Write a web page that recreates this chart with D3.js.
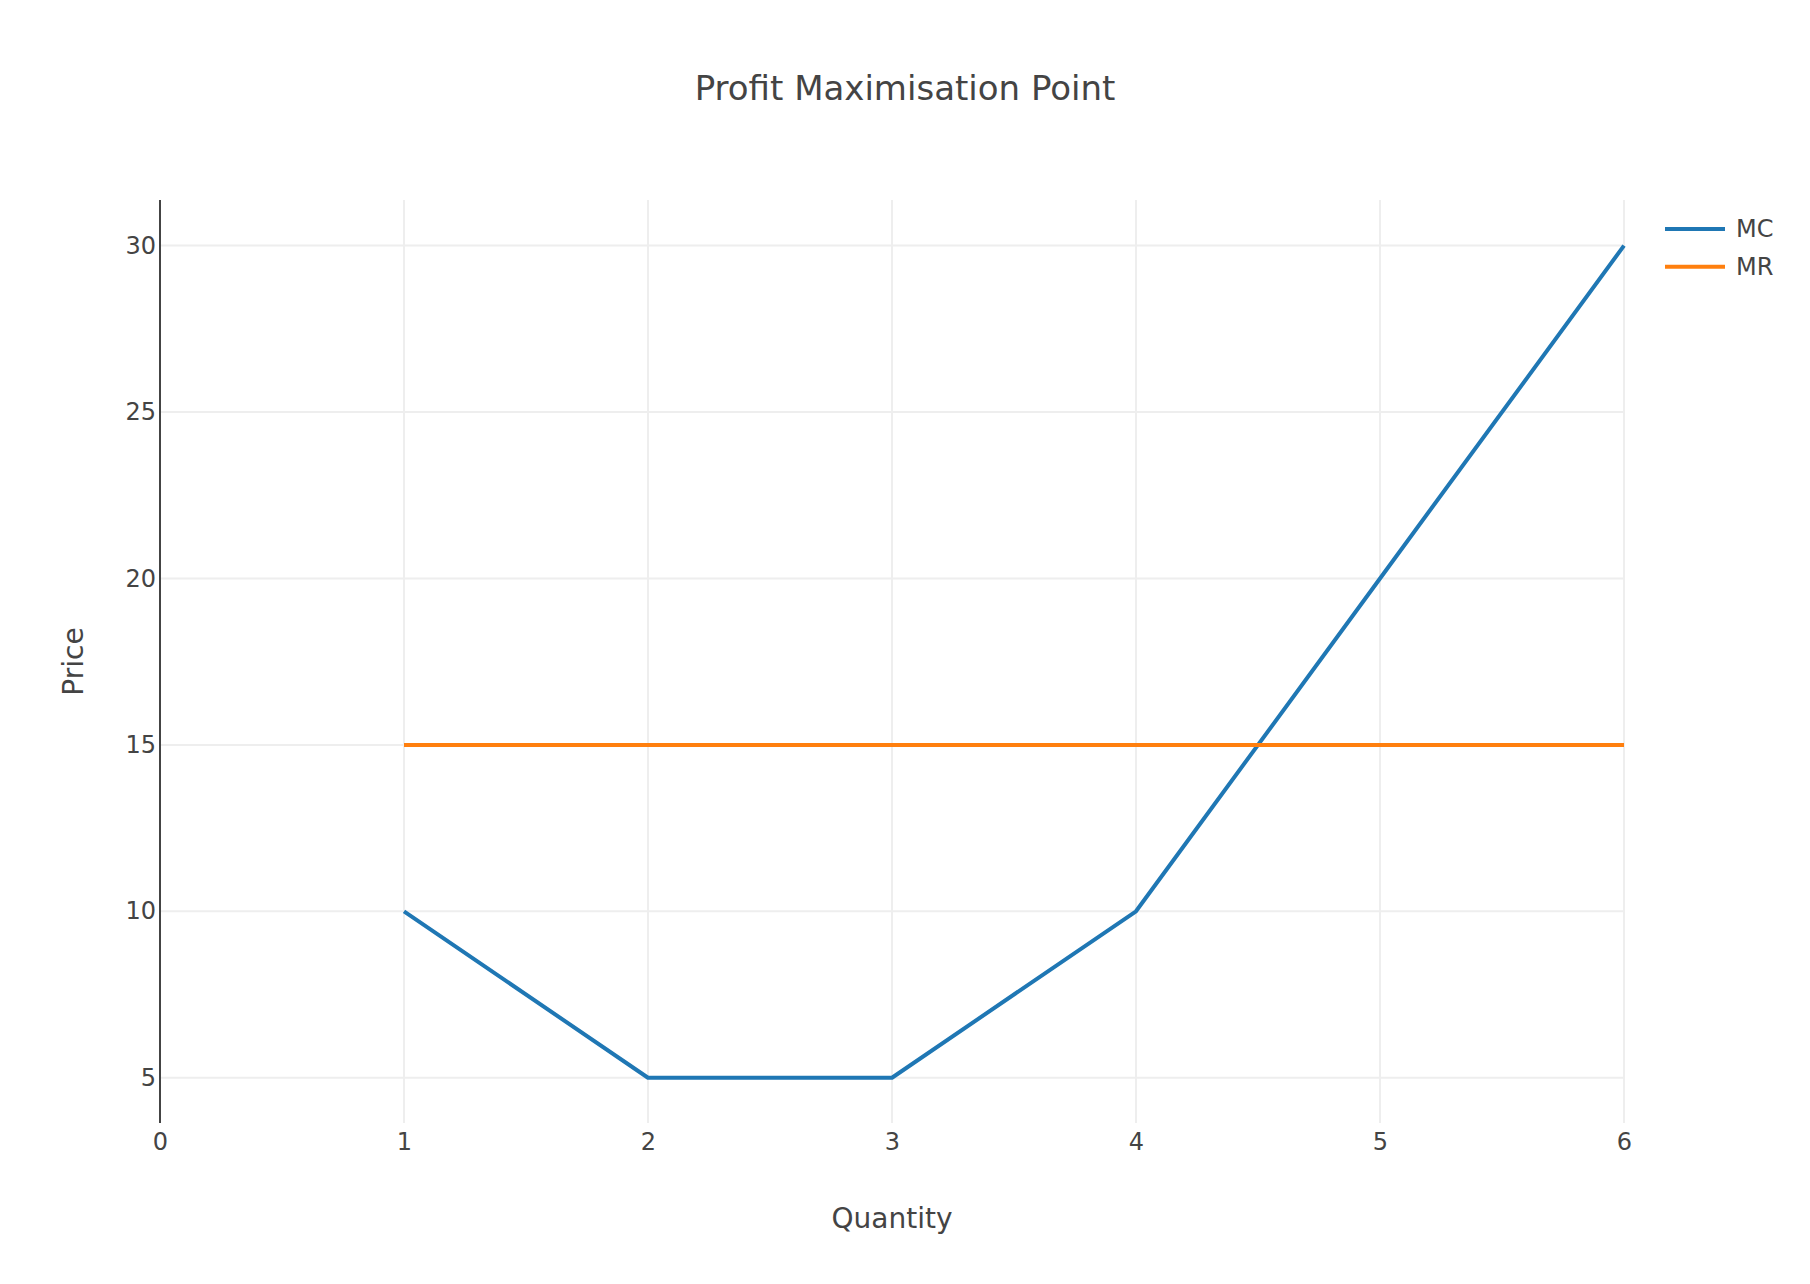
<!DOCTYPE html>
<html>
<head>
<meta charset="utf-8">
<script src="https://cdn.jsdelivr.net/npm/d3@7"></script>
<style>
  body { margin: 0; background: #fff; }
  text { font-family: "DejaVu Sans", Verdana, sans-serif; fill: #444; }
</style>
</head>
<body>
<svg id="chart"></svg>
<script>
// chart data
const quantity = [1, 2, 3, 4, 5, 6];
const mcValues = [10, 5, 5, 10, 20, 30];
const mrValues = [15, 15, 15, 15, 15, 15];
const xTicks = [0, 1, 2, 3, 4, 5, 6];
const yTicks = [5, 10, 15, 20, 25, 30];
const seriesNames = ["MC", "MR"];

const width = 1810, height = 1284;
const margin = {top: 200, right: 186, bottom: 161, left: 160};
const colors = {MC: "#1f77b4", MR: "#ff7f0e"};

const svg = d3.select("#chart")
  .attr("width", width)
  .attr("height", height);

const x = d3.scaleLinear()
  .domain([0, 6])
  .range([margin.left, width - margin.right]);

const y = d3.scaleLinear()
  .domain([3.64, 31.37])
  .range([height - margin.bottom, margin.top]);

// grid
svg.append("g")
  .selectAll("line")
  .data(yTicks)
  .join("line")
  .attr("x1", x(0)).attr("x2", x(6))
  .attr("y1", d => y(d)).attr("y2", d => y(d))
  .attr("stroke", "#eee").attr("stroke-width", 2);

svg.append("g")
  .selectAll("line")
  .data(xTicks.filter(d => d !== 0))
  .join("line")
  .attr("x1", d => x(d)).attr("x2", d => x(d))
  .attr("y1", y.range()[0]).attr("y2", y.range()[1])
  .attr("stroke", "#eee").attr("stroke-width", 2);

// zero line for x
svg.append("line")
  .attr("x1", x(0)).attr("x2", x(0))
  .attr("y1", y.range()[0]).attr("y2", y.range()[1])
  .attr("stroke", "#444").attr("stroke-width", 2);

// axes using d3 axis generators, then styled
const xAxis = svg.append("g")
  .attr("transform", `translate(0, ${y.range()[0]})`)
  .call(d3.axisBottom(x).tickValues(xTicks).tickFormat(d3.format("d")).tickSize(0).tickPadding(10));
xAxis.select(".domain").remove();
xAxis.selectAll("text").attr("font-size", 24).attr("fill", "#444")
  .style("font-family", '"DejaVu Sans", Verdana, sans-serif');

const yAxis = svg.append("g")
  .attr("transform", `translate(${x(0)}, 0)`)
  .call(d3.axisLeft(y).tickValues(yTicks).tickFormat(d3.format("d")).tickSize(0).tickPadding(4));
yAxis.select(".domain").remove();
yAxis.selectAll("text").attr("font-size", 24).attr("fill", "#444")
  .style("font-family", '"DejaVu Sans", Verdana, sans-serif');

// lines
const line = d3.line()
  .x(d => x(d[0]))
  .y(d => y(d[1]));

const series = [
  {name: seriesNames[0], values: quantity.map((q, i) => [q, mcValues[i]])},
  {name: seriesNames[1], values: quantity.map((q, i) => [q, mrValues[i]])}
];

svg.append("g")
  .selectAll("path")
  .data(series)
  .join("path")
  .attr("d", d => line(d.values))
  .attr("fill", "none")
  .attr("stroke", d => colors[d.name])
  .attr("stroke-width", 4)
  .attr("stroke-linejoin", "round");

// titles
svg.append("text")
  .attr("x", width / 2).attr("y", 100)
  .attr("text-anchor", "middle")
  .attr("font-size", 34)
  .text("Profit Maximisation Point");

svg.append("text")
  .attr("x", x(3)).attr("y", 1228)
  .attr("text-anchor", "middle")
  .attr("font-size", 28)
  .text("Quantity");

svg.append("text")
  .attr("transform", `translate(83, ${(y.range()[0] + y.range()[1]) / 2}) rotate(-90)`)
  .attr("text-anchor", "middle")
  .attr("font-size", 28)
  .text("Price");

// legend
const legend = svg.append("g")
  .selectAll("g")
  .data(series)
  .join("g")
  .attr("transform", (d, i) => `translate(1665, ${229 + i * 37.7})`);

legend.append("line")
  .attr("x1", 0).attr("x2", 60)
  .attr("stroke", d => colors[d.name])
  .attr("stroke-width", 4);

legend.append("text")
  .attr("x", 71).attr("dy", "0.35em")
  .attr("font-size", 24)
  .text(d => d.name);
</script>
</body>
</html>
